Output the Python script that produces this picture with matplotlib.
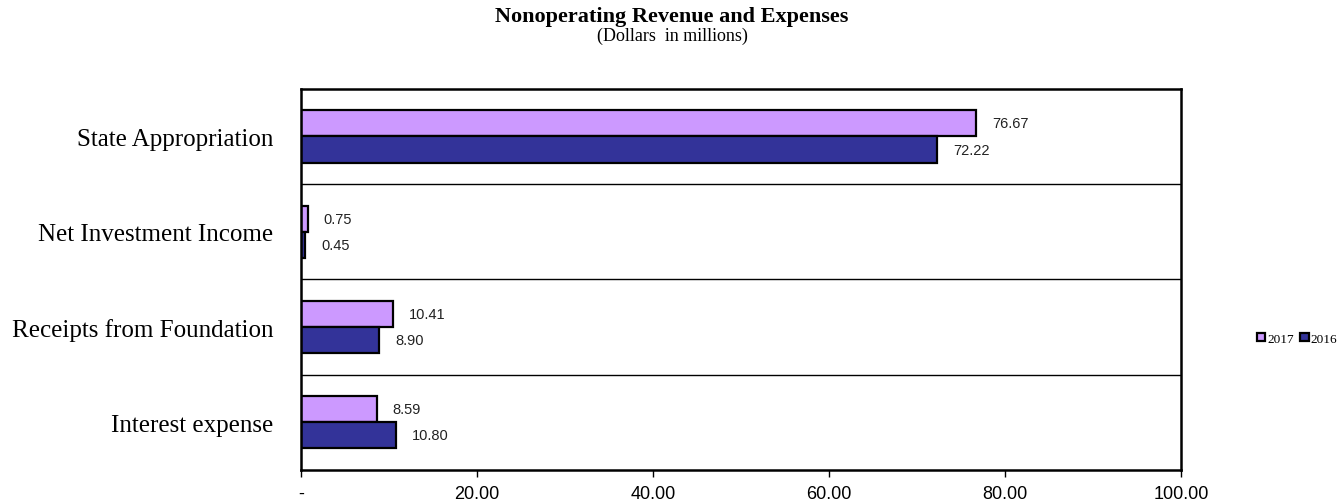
import numpy as np
import matplotlib
matplotlib.use("Agg")
import matplotlib.pyplot as plt

categories = ["State Appropriation", "Net Investment Income",
              "Receipts from Foundation", "Interest expense"]
vals_2017 = [76.67, 0.75, 10.41, 8.59]
vals_2016 = [72.22, 0.45, 8.90, 10.80]
xticks = [0, 20, 40, 60, 80, 100]
xtick_labels = ["-", "20.00", "40.00", "60.00", "80.00", "100.00"]

fig = plt.figure(figsize=(13.44, 5.02), dpi=100)
ax = fig.add_axes([0.224, 0.062, 0.655, 0.759])

n = len(categories)
y = np.arange(n)
h = 0.275
c17 = "#cc99ff"
c16 = "#333399"

b17 = ax.barh(y - h / 2, vals_2017, height=h, color=c17, edgecolor="black",
              linewidth=1.6, label="2017")
b16 = ax.barh(y + h / 2, vals_2016, height=h, color=c16, edgecolor="black",
              linewidth=1.6, label="2016")

# value labels to the right of each bar
for rects, vals in ((b17, vals_2017), (b16, vals_2016)):
    for r, v in zip(rects, vals):
        ax.annotate(f"{v:.2f}", (v, r.get_y() + r.get_height() / 2),
                    xytext=(16, 0), textcoords="offset pixels",
                    va="center", ha="left", fontsize=10.5,
                    family="Liberation Sans", color="#222222")

# horizontal separators between categories
for k in range(1, n):
    ax.axhline(k - 0.5, color="black", linewidth=1.0)

ax.set_ylim(n - 0.5, -0.5)
ax.set_xlim(0, 100)
ax.set_yticks(y)
ax.set_yticklabels(categories, family="Liberation Serif", fontsize=18)
ax.tick_params(axis="y", length=0, pad=20)
ax.set_xticks(xticks)
ax.set_xticklabels(xtick_labels, family="Liberation Sans", fontsize=13)
ax.tick_params(axis="x", direction="out", length=5, width=1, pad=6)

for s in ax.spines.values():
    s.set_linewidth(1.8)
    s.set_color("black")

fig.text(0.5, 0.966, "Nonoperating Revenue and Expenses", ha="center",
         va="center", family="Liberation Serif", fontsize=16, weight="bold")
fig.text(0.5, 0.928, "(Dollars  in millions)", ha="center", va="center",
         family="Liberation Serif", fontsize=13)

fig.legend(handles=[b17, b16], labels=["2017", "2016"], loc="center",
           bbox_to_anchor=(0.965, 0.323), ncol=2, frameon=False,
           prop={"family": "Liberation Serif", "size": 9.5},
           handlelength=0.65, handleheight=0.6, handletextpad=0.15,
           columnspacing=0.45)

fig.savefig("out.png", dpi=100)
